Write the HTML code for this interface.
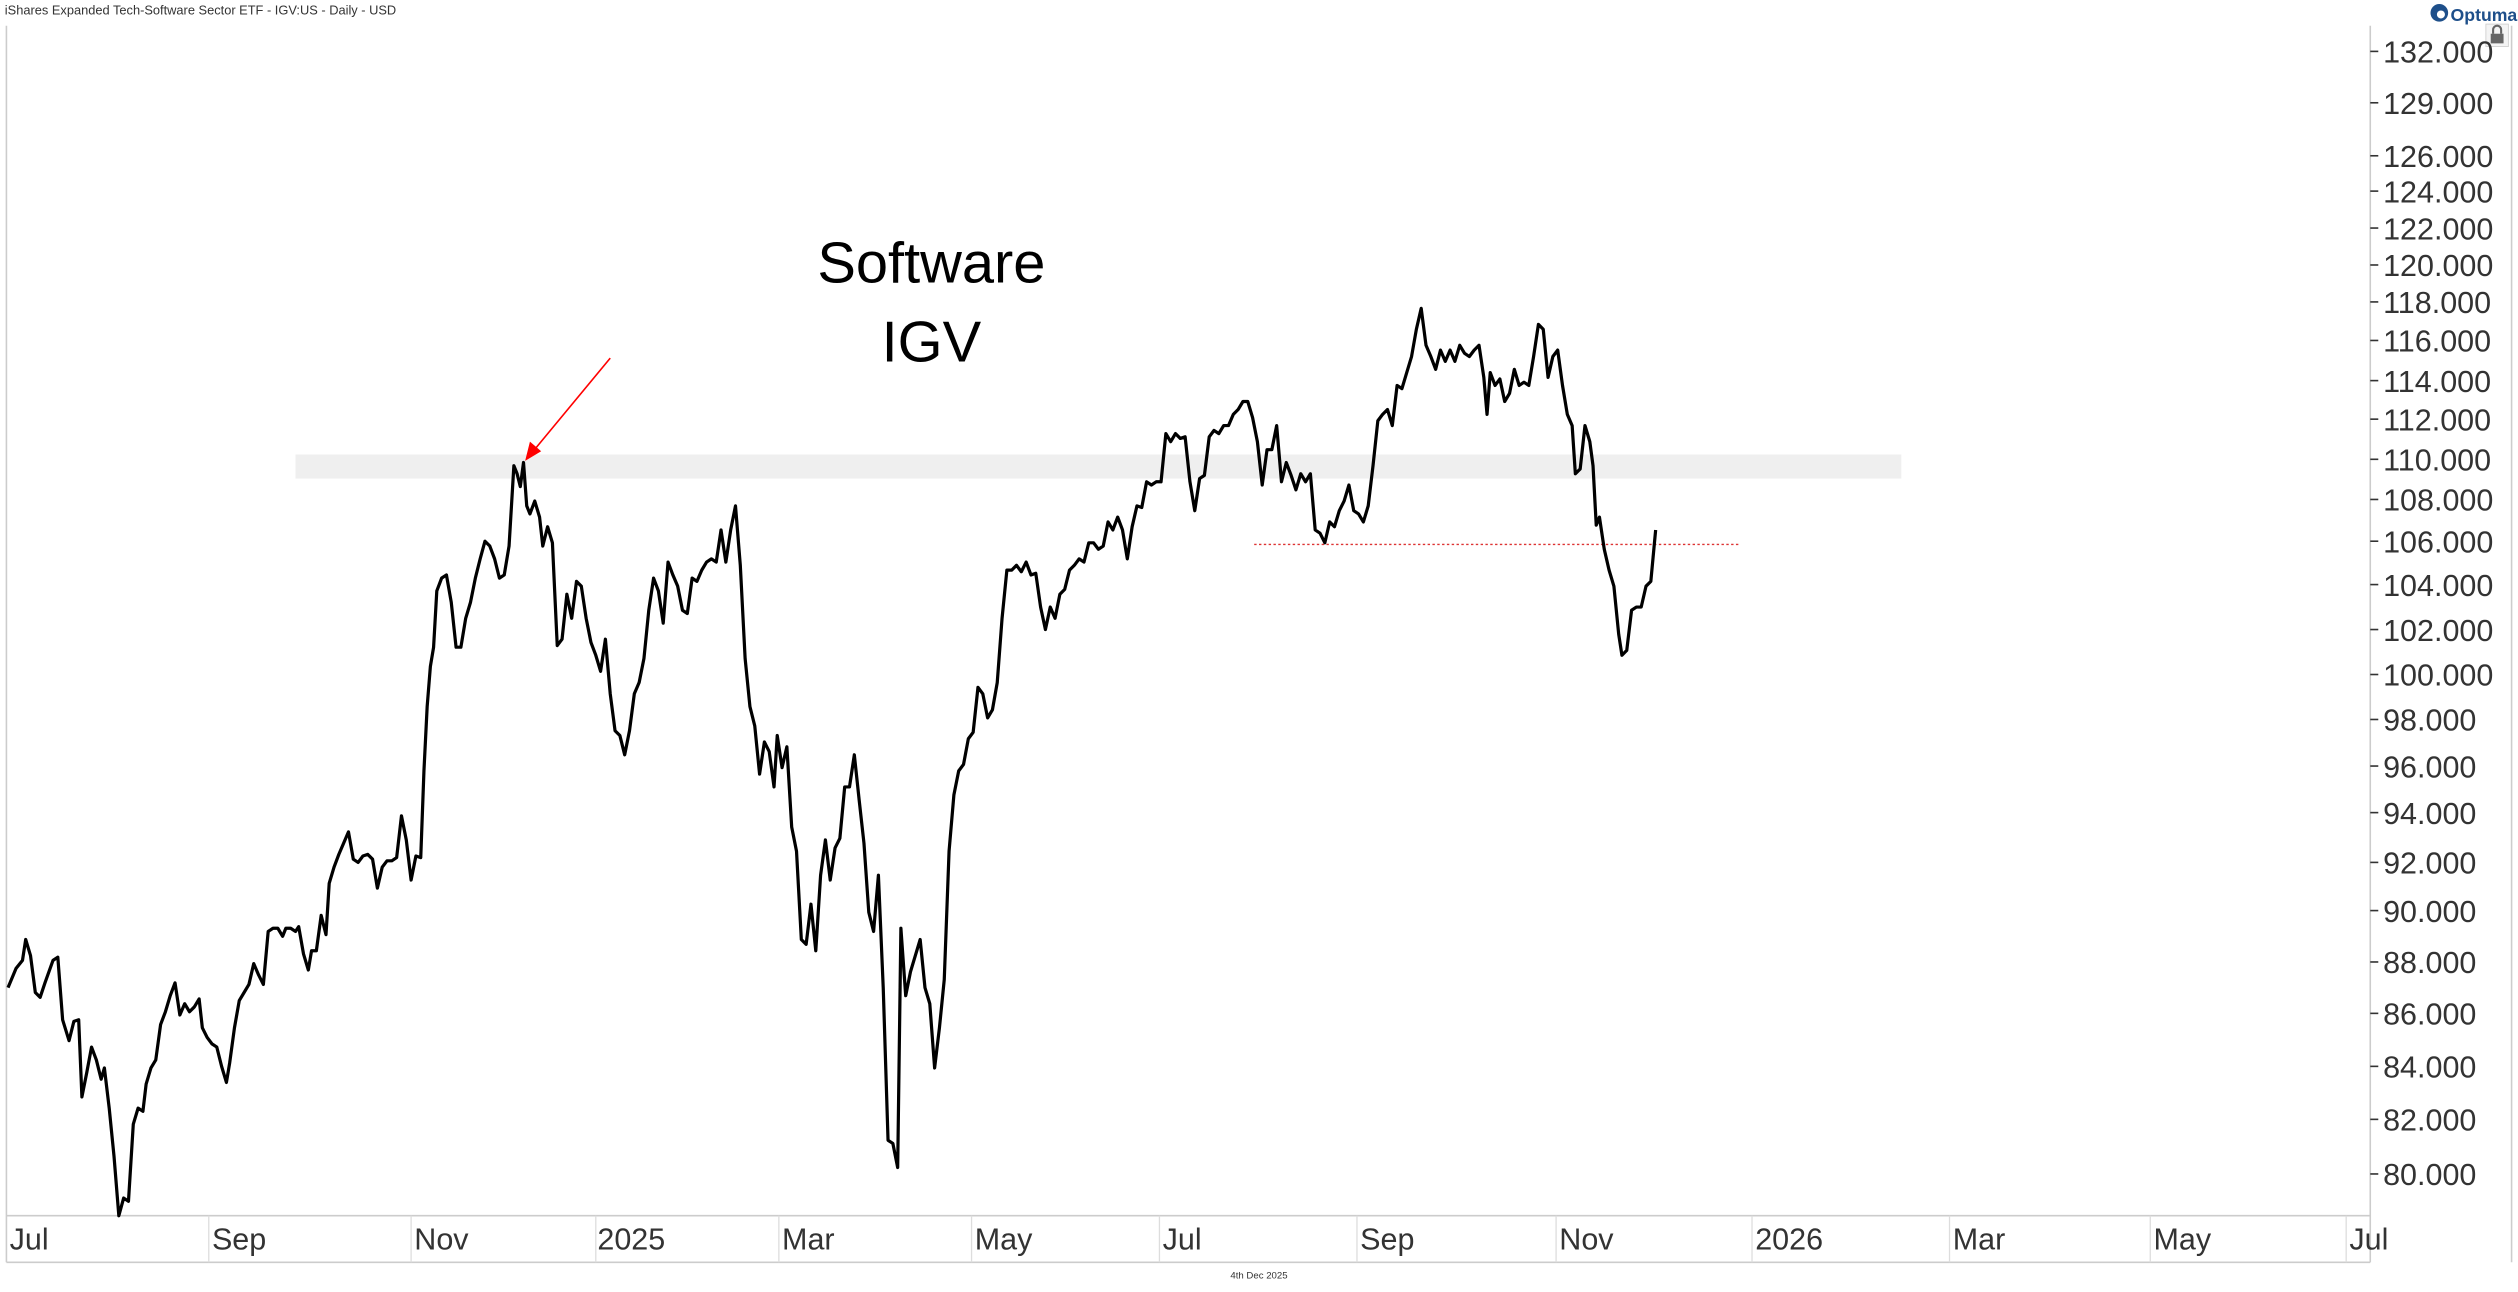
<!DOCTYPE html>
<html><head><meta charset="utf-8"><style>
html,body{margin:0;padding:0;background:#fff;}
svg{display:block;}
text{font-family:"Liberation Sans","DejaVu Sans",sans-serif;}
</style></head><body>
<svg width="2518" height="1292" viewBox="0 0 1568 804.5" preserveAspectRatio="none" xmlns="http://www.w3.org/2000/svg">
<rect width="1568" height="804.5" fill="#fff"/>
<text x="3" y="9" font-size="8" fill="#333">iShares Expanded Tech-Software Sector ETF - IGV:US - Daily - USD</text>
<!-- Optuma logo -->
<circle cx="1519" cy="8" r="5.5" fill="#1e4f8a"/><circle cx="1520" cy="9" r="2.5" fill="#fff"/>
<text x="1526" y="13" font-size="11" font-weight="bold" fill="#1e4f8a">Optuma</text>
<rect x="1548" y="15" width="14" height="14" fill="#f4f4f4" stroke="#ccc" stroke-width="0.5"/>
<rect x="1551" y="21" width="8" height="6" fill="#666"/><path d="M1552.5 21v-2.5a2.5 2.5 0 0 1 5 0V21" fill="none" stroke="#666" stroke-width="1.3"/>
<!-- frame -->
<line x1="1476" y1="16" x2="1476" y2="786" stroke="#ccc" stroke-width="1"/>
<line x1="1564" y1="16" x2="1564" y2="786" stroke="#ccc" stroke-width="1"/>
<line x1="4" y1="16" x2="4" y2="786" stroke="#ccc" stroke-width="1"/>
<line x1="4" y1="757" x2="1476" y2="757" stroke="#ccc" stroke-width="1"/>
<line x1="4" y1="786" x2="1476" y2="786" stroke="#ccc" stroke-width="1"/>
<!-- x axis separators and labels -->
<g stroke="#ddd" stroke-width="0.8">
<line x1="130" y1="757" x2="130" y2="786"/><line x1="256" y1="757" x2="256" y2="786"/><line x1="371" y1="757" x2="371" y2="786"/><line x1="485" y1="757" x2="485" y2="786"/><line x1="605" y1="757" x2="605" y2="786"/><line x1="722" y1="757" x2="722" y2="786"/><line x1="845" y1="757" x2="845" y2="786"/><line x1="969" y1="757" x2="969" y2="786"/><line x1="1091" y1="757" x2="1091" y2="786"/><line x1="1214" y1="757" x2="1214" y2="786"/><line x1="1339" y1="757" x2="1339" y2="786"/><line x1="1461" y1="757" x2="1461" y2="786"/>
</g>
<g font-size="19" fill="#333">
<text x="6" y="778">Jul</text><text x="132" y="778">Sep</text><text x="258" y="778">Nov</text><text x="372" y="778">2025</text><text x="487" y="778">Mar</text><text x="607" y="778">May</text><text x="724" y="778">Jul</text><text x="847" y="778">Sep</text><text x="971" y="778">Nov</text><text x="1093" y="778">2026</text><text x="1216" y="778">Mar</text><text x="1341" y="778">May</text><text x="1463" y="778">Jul</text>
</g>
<text x="784" y="796" font-size="6" fill="#333" text-anchor="middle">4th Dec 2025</text>
<!-- y axis -->
<g font-size="19" fill="#333" stroke="none">
<text x="1484" y="39">132.000</text><text x="1484" y="71">129.000</text><text x="1484" y="104">126.000</text><text x="1484" y="126">124.000</text><text x="1484" y="149">122.000</text><text x="1484" y="172">120.000</text><text x="1484" y="195">118.000</text><text x="1484" y="219">116.000</text><text x="1484" y="244">114.000</text><text x="1484" y="268">112.000</text><text x="1484" y="293">110.000</text><text x="1484" y="318">108.000</text><text x="1484" y="344">106.000</text><text x="1484" y="371">104.000</text><text x="1484" y="399">102.000</text><text x="1484" y="427">100.000</text><text x="1484" y="455">98.000</text><text x="1484" y="484">96.000</text><text x="1484" y="513">94.000</text><text x="1484" y="544">92.000</text><text x="1484" y="574">90.000</text><text x="1484" y="606">88.000</text><text x="1484" y="638">86.000</text><text x="1484" y="671">84.000</text><text x="1484" y="704">82.000</text><text x="1484" y="738">80.000</text>
</g>
<g stroke="#333" stroke-width="1">
<line x1="1476" x2="1481" y1="32" y2="32"/><line x1="1476" x2="1481" y1="64" y2="64"/><line x1="1476" x2="1481" y1="97" y2="97"/><line x1="1476" x2="1481" y1="119" y2="119"/><line x1="1476" x2="1481" y1="142" y2="142"/><line x1="1476" x2="1481" y1="165" y2="165"/><line x1="1476" x2="1481" y1="188" y2="188"/><line x1="1476" x2="1481" y1="212" y2="212"/><line x1="1476" x2="1481" y1="237" y2="237"/><line x1="1476" x2="1481" y1="261" y2="261"/><line x1="1476" x2="1481" y1="286" y2="286"/><line x1="1476" x2="1481" y1="311" y2="311"/><line x1="1476" x2="1481" y1="337" y2="337"/><line x1="1476" x2="1481" y1="364" y2="364"/><line x1="1476" x2="1481" y1="392" y2="392"/><line x1="1476" x2="1481" y1="420" y2="420"/><line x1="1476" x2="1481" y1="448" y2="448"/><line x1="1476" x2="1481" y1="477" y2="477"/><line x1="1476" x2="1481" y1="506" y2="506"/><line x1="1476" x2="1481" y1="537" y2="537"/><line x1="1476" x2="1481" y1="567" y2="567"/><line x1="1476" x2="1481" y1="599" y2="599"/><line x1="1476" x2="1481" y1="631" y2="631"/><line x1="1476" x2="1481" y1="664" y2="664"/><line x1="1476" x2="1481" y1="697" y2="697"/><line x1="1476" x2="1481" y1="731" y2="731"/>
</g>
<!-- annotations -->
<rect x="184" y="283" width="1000" height="15" fill="#efefef"/>
<line x1="781" y1="339" x2="1083" y2="339" stroke="#d33" stroke-width="0.8" stroke-dasharray="1.5,1.5"/>
<line x1="380" y1="223" x2="332" y2="281" stroke="#f00" stroke-width="1"/>
<polygon points="327,287 330,275 337,281" fill="#f00"/>
<text x="580" y="176" font-size="36" text-anchor="middle" fill="#000">Software</text>
<text x="580" y="225" font-size="36" text-anchor="middle" fill="#000">IGV</text>
<!-- price -->
<polyline fill="none" stroke="#000" stroke-width="2" stroke-linejoin="round" points="5,615 10,603 14,598 16,585 19,595 22,618 25,621 28,612 33,598 36,596 39,635 43,648 46,636 49,635 51,683 54,668 57,652 60,660 63,672 65,665 68,690 71,720 74,757 77,746 80,748 83,700 86,690 89,692 91,675 94,665 97,660 100,638 103,630 106,620 109,612 112,632 115,625 118,630 121,627 124,622 126,640 129,646 132,650 135,652 138,664 141,674 143,662 146,640 149,623 152,618 155,613 158,600 161,607 164,613 167,580 170,578 173,578 176,583 178,578 181,578 184,580 186,577 189,594 192,604 194,592 197,592 200,570 203,582 205,550 208,540 211,532 214,525 217,518 220,535 223,537 226,533 229,532 232,535 235,553 238,540 241,536 244,536 247,534 250,508 253,523 256,548 259,533 262,534 264,480 266,440 268,415 270,403 272,368 275,360 278,358 281,375 284,403 287,403 290,385 293,375 296,360 299,348 302,337 305,340 308,348 311,360 314,358 317,340 320,290 322,295 324,303 326,288 328,315 330,320 333,312 336,322 338,340 341,328 344,338 347,402 350,398 353,370 356,385 359,362 362,365 365,385 368,400 371,408 374,418 377,398 380,432 383,455 386,458 389,470 392,455 395,432 398,425 401,410 404,380 407,360 410,368 413,388 416,350 419,358 422,365 425,380 428,382 431,360 434,362 437,355 440,350 443,348 446,350 449,330 452,350 455,330 458,315 461,352 464,410 467,440 470,452 473,482 476,462 479,468 482,490 484,458 487,478 490,465 493,515 496,530 499,585 502,588 505,563 508,592 511,545 514,523 517,548 520,528 523,522 526,490 529,490 532,470 535,498 538,525 541,568 544,580 547,545 550,615 553,710 556,712 559,727 561,578 564,620 567,605 570,595 573,585 576,615 579,625 582,665 585,640 588,610 591,530 594,495 597,480 600,476 603,460 606,456 609,428 612,432 615,447 618,442 621,425 624,385 627,355 630,355 633,352 636,356 639,350 642,358 645,357 648,378 651,392 654,378 657,385 660,370 663,367 666,355 669,352 672,348 675,350 678,338 681,338 684,342 687,340 690,325 693,330 696,322 699,330 702,348 705,328 708,315 711,316 714,300 717,302 720,300 723,300 726,270 729,275 732,270 735,273 738,272 741,300 744,318 747,298 750,296 753,272 756,268 759,270 762,265 765,265 768,258 771,255 774,250 777,250 780,260 783,275 786,302 789,280 792,280 795,265 798,300 801,288 804,296 807,305 810,295 813,300 816,295 819,330 822,332 825,338 828,325 831,328 834,318 837,312 840,302 843,318 846,320 849,325 852,315 855,290 858,262 861,258 864,255 867,265 870,240 873,242 876,232 879,222 882,205 885,192 888,215 891,222 894,230 897,218 900,225 903,218 906,225 909,215 912,220 915,222 918,218 921,215 924,235 926,258 928,232 931,240 934,236 937,250 940,245 943,230 946,240 949,238 952,240 955,222 958,202 961,205 964,235 967,222 970,218 973,240 976,258 979,265 981,295 984,292 987,265 990,275 992,290 994,327 996,322 999,342 1002,355 1005,365 1008,395 1010,408 1013,405 1016,380 1019,378 1022,378 1025,365 1028,362 1031,330"/>
</svg>
</body></html>
